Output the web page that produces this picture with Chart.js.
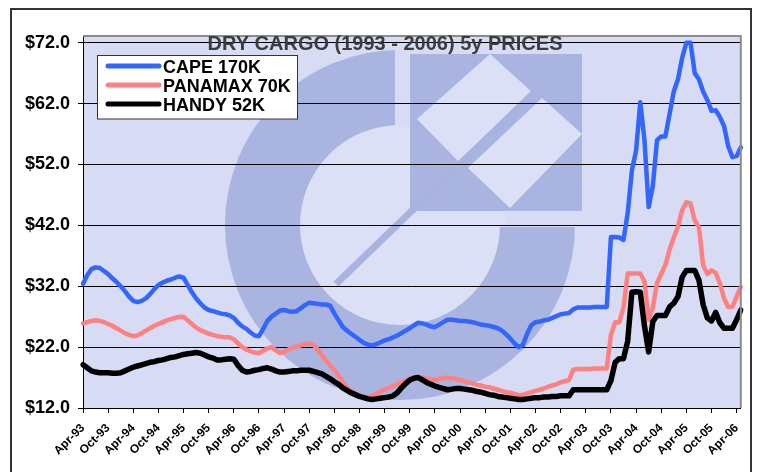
<!DOCTYPE html>
<html>
<head>
<meta charset="utf-8">
<script src="https://cdn.jsdelivr.net/npm/chart.js@4.4.1/dist/chart.umd.min.js"></script>
<style>
  html, body { margin: 0; padding: 0; background: #fff; }
  canvas { display: block; }
</style>
</head>
<body>
<canvas id="dryChart" width="759" height="472"></canvas>
<script>
// monthly categories, Apr-93 .. May-06
const monthNames = ['Jan', 'Feb', 'Mar', 'Apr', 'May', 'Jun', 'Jul', 'Aug', 'Sep', 'Oct', 'Nov', 'Dec'];
const months = [];
for (let i = 0; i < 158; i++) {
    const k = 3 + i;
    const yy = (93 + Math.floor(k / 12)) % 100;
    months.push(monthNames[k % 12] + '-' + String(yy).padStart(2, '0'));
}

const tickLabels = ['Apr-93', 'Oct-93', 'Apr-94', 'Oct-94', 'Apr-95', 'Oct-95', 'Apr-96', 'Oct-96',
    'Apr-97', 'Oct-97', 'Apr-98', 'Oct-98', 'Apr-99', 'Oct-99', 'Apr-00', 'Oct-00', 'Apr-01', 'Oct-01',
    'Apr-02', 'Oct-02', 'Apr-03', 'Oct-03', 'Apr-04', 'Oct-04', 'Apr-05', 'Oct-05', 'Apr-06'];
const yTicks = [12, 22, 32, 42, 52, 62, 72];

const cape = [
    32.4, 33.8, 34.8, 35.1, 35.0, 34.5, 34.0, 33.3, 32.7, 32.0,
    31.2, 30.3, 29.6, 29.4, 29.6, 30.0, 30.7, 31.5, 32.2, 32.6,
    32.9, 33.1, 33.4, 33.6, 33.4, 32.2, 31.0, 30.0, 29.2, 28.5,
    28.1, 27.9, 27.7, 27.5, 27.4, 27.2, 26.8, 26.0, 25.4, 25.0,
    24.4, 23.9, 23.8, 25.0, 26.3, 27.0, 27.5, 28.0, 28.1, 27.9,
    27.8, 27.9, 28.4, 28.9, 29.3, 29.2, 29.1, 29.0, 29.0, 28.8,
    27.5, 26.4, 25.3, 24.7, 24.2, 23.7, 23.2, 22.7, 22.4, 22.3,
    22.5, 22.8, 23.1, 23.3, 23.6, 23.9, 24.3, 24.7, 25.1, 25.6,
    26.0, 25.9, 25.7, 25.4, 25.3, 25.7, 26.1, 26.5, 26.5, 26.4,
    26.3, 26.3, 26.2, 26.1, 25.9, 25.7, 25.6, 25.5, 25.3, 25.1,
    24.7, 24.1, 23.4, 22.6, 22.0, 22.4, 24.2, 25.6, 26.1, 26.2,
    26.4, 26.5, 26.8, 27.1, 27.4, 27.5, 27.6, 28.2, 28.5, 28.5,
    28.5, 28.5, 28.6, 28.6, 28.6, 28.6, 40.1, 40.1, 40.0, 39.6,
    44.0, 51.0, 54.3, 62.2, 56.0, 45.0, 48.5, 56.0, 56.6, 56.6,
    60.3, 64.0, 66.0, 69.5, 72.0, 72.0, 67.0, 66.0, 64.0, 62.6,
    60.8, 60.9, 59.8, 58.3, 55.0, 53.2, 53.4, 54.8
];
const panamax = [
    25.9, 26.1, 26.3, 26.4, 26.3, 26.1, 25.8, 25.5, 25.1, 24.7,
    24.3, 24.0, 23.8, 23.9, 24.3, 24.7, 25.1, 25.5, 25.8, 26.1,
    26.4, 26.6, 26.8, 27.0, 27.0, 26.4, 25.8, 25.2, 24.8, 24.5,
    24.2, 24.0, 23.8, 23.7, 23.6, 23.6, 23.3, 22.6, 22.0, 21.6,
    21.3, 21.1, 21.0, 21.4, 21.8, 22.0, 21.5, 21.0, 21.2, 21.6,
    21.9, 22.1, 22.3, 22.5, 22.6, 22.4, 21.6, 20.7, 19.8, 19.0,
    18.2, 17.3, 16.3, 15.4, 14.8, 14.3, 13.9, 13.7, 13.8, 14.0,
    14.3, 14.7, 15.0, 15.3, 15.6, 15.9, 16.2, 16.5, 16.8, 17.0,
    17.1, 17.0, 16.8, 16.7, 16.6, 16.8, 16.9, 17.0, 16.9, 16.8,
    16.6, 16.4, 16.2, 16.0, 15.8, 15.7, 15.5, 15.4, 15.2, 15.0,
    14.8, 14.6, 14.5, 14.3, 14.1, 14.2, 14.4, 14.6, 14.8, 15.0,
    15.2, 15.5, 15.7, 15.9, 16.2, 16.4, 16.6, 18.3, 18.4, 18.4,
    18.4, 18.4, 18.5, 18.5, 18.5, 18.5, 24.0, 26.1, 26.1, 28.5,
    34.1, 34.1, 34.1, 34.1, 32.8, 26.5, 28.5, 32.5, 34.0, 35.5,
    38.0, 40.0, 41.8, 44.5, 45.8, 45.6, 42.8, 41.7, 35.5, 34.0,
    34.6, 34.2, 32.5, 30.0, 28.6, 28.6, 30.3, 31.9
];
const handy = [
    19.1, 18.6, 18.1, 17.9, 17.8, 17.8, 17.8, 17.7, 17.7, 17.8,
    18.1, 18.4, 18.7, 18.9, 19.1, 19.3, 19.5, 19.6, 19.8, 19.9,
    20.1, 20.3, 20.4, 20.6, 20.8, 20.9, 21.0, 21.1, 21.0, 20.7,
    20.4, 20.2, 19.9, 19.9, 20.0, 20.1, 20.0, 19.0, 18.2, 17.9,
    18.0, 18.2, 18.3, 18.5, 18.6, 18.4, 18.1, 17.9, 17.9, 18.0,
    18.1, 18.1, 18.2, 18.2, 18.2, 18.0, 17.8, 17.6, 17.2, 16.8,
    16.3, 15.9, 15.3, 14.9, 14.5, 14.2, 13.9, 13.7, 13.5, 13.4,
    13.5, 13.6, 13.7, 13.8, 14.0, 14.5, 15.3, 16.0, 16.6, 16.9,
    17.0, 16.6, 16.2, 15.9, 15.6, 15.4, 15.2, 15.0, 15.1, 15.2,
    15.2, 15.1, 15.0, 14.9, 14.7, 14.6, 14.4, 14.2, 14.1, 13.9,
    13.8, 13.7, 13.6, 13.5, 13.4, 13.4, 13.5, 13.6, 13.7, 13.7,
    13.8, 13.8, 13.9, 13.9, 14.0, 14.0, 14.0, 15.0, 15.0, 15.0,
    15.0, 15.0, 15.0, 15.0, 15.0, 15.0, 16.5, 19.5, 20.1, 20.1,
    23.0, 31.0, 31.1, 31.0, 25.5, 21.2, 26.2, 27.2, 27.2, 27.2,
    28.6, 29.2, 30.3, 33.5, 34.6, 34.6, 34.6, 33.0, 29.0, 26.8,
    26.3, 27.7, 26.0, 25.1, 25.1, 25.1, 26.5, 28.1
];

const seriesNames = ['CAPE 170K', 'PANAMAX 70K', 'HANDY 52K'];
const seriesColors = ['#3366ff', '#ff8080', '#000000'];

const FONT = '"Liberation Sans", Arial, sans-serif';
const BG = '#d7dcf4';
const RING = '#aab4e0';
const LIGHT = '#dce0f7';

// plot background + faded logo
const backdrop = {
    id: 'backdrop',
    beforeDraw(chart) {
        const c = chart.ctx, a = chart.chartArea;
        c.save();
        c.beginPath();
        c.rect(a.left, a.top, a.right - a.left, a.bottom - a.top);
        c.clip();
        c.fillStyle = BG;
        c.fillRect(a.left, a.top, a.right - a.left, a.bottom - a.top);

        const cx = 400, cy = 225;
        c.fillStyle = RING;
        c.beginPath();
        c.arc(cx, cy, 175, 0, Math.PI * 2);
        c.fill();
        c.fillStyle = LIGHT;
        c.beginPath();
        c.arc(cx, cy, 100, 0, Math.PI * 2);
        c.fill();
        // upper right quarter cut out
        c.fillStyle = BG;
        c.fillRect(395, a.top, 200, 227 - a.top);
        c.fillStyle = LIGHT;
        c.fillRect(395, 125, 110, 102);
        c.fillStyle = RING;
        c.fillRect(410, 54, 172, 157);
        // two diamonds
        c.fillStyle = LIGHT;
        c.beginPath();
        c.moveTo(490, 54); c.lineTo(533, 93); c.lineTo(458, 161); c.lineTo(417, 119);
        c.closePath();
        c.fill();
        c.beginPath();
        c.moveTo(542, 98); c.lineTo(582, 134); c.lineTo(510, 208); c.lineTo(468, 168);
        c.closePath();
        c.fill();
        // diagonal stroke
        c.strokeStyle = '#a9b3df';
        c.lineWidth = 7;
        c.beginPath();
        c.moveTo(336, 284);
        c.lineTo(538, 89);
        c.stroke();
        c.restore();
    },
    afterDraw(chart) {
        const c = chart.ctx, a = chart.chartArea;
        c.save();
        // plot frame (top / right)
        c.strokeStyle = '#8c8c8c';
        c.lineWidth = 2;
        c.beginPath();
        c.moveTo(a.left, a.top);
        c.lineTo(a.right, a.top);
        c.lineTo(a.right, a.bottom);
        c.stroke();
        // outer frame
        c.strokeStyle = '#333';
        c.lineWidth = 2;
        c.strokeRect(11, 9, 740, 480);

        // title
        c.fillStyle = '#3c3c3c';
        c.font = 'bold 20px ' + FONT;
        c.textAlign = 'center';
        c.textBaseline = 'middle';
        c.fillText('DRY CARGO (1993 - 2006) 5y PRICES', 385, 44);

        // legend
        c.fillStyle = '#fff';
        c.fillRect(97.5, 55.5, 200, 63.5);
        c.strokeStyle = '#333';
        c.lineWidth = 1;
        c.strokeRect(97.5, 55.5, 200, 63.5);
        c.font = 'bold 18px ' + FONT;
        c.textAlign = 'left';
        c.lineCap = 'round';
        seriesNames.forEach((name, i) => {
            const y = 66 + i * 19;
            c.strokeStyle = seriesColors[i];
            c.lineWidth = 5;
            c.beginPath();
            c.moveTo(108, y);
            c.lineTo(159, y);
            c.stroke();
            c.fillStyle = '#000';
            c.fillText(name, 163, y + 2);
        });
        c.restore();
    }
};

const ctx = document.getElementById('dryChart').getContext('2d');
const dryChart = new Chart(ctx, {
    type: 'line',
    data: {
        labels: months,
        datasets: [
            { label: seriesNames[0], data: cape, borderColor: seriesColors[0], borderWidth: 4.5, order: 2 },
            { label: seriesNames[1], data: panamax, borderColor: seriesColors[1], borderWidth: 4.5, order: 1 },
            { label: seriesNames[2], data: handy, borderColor: seriesColors[2], borderWidth: 5.5, order: 0 }
        ]
    },
    options: {
        responsive: false,
        animation: false,
        layout: { padding: { left: 0, right: 18, top: 36, bottom: 0 } },
        elements: {
            point: { radius: 0 },
            line: { tension: 0, fill: false, borderJoinStyle: 'round', borderCapStyle: 'round' }
        },
        plugins: {
            legend: { display: false },
            title: { display: false },
            tooltip: { enabled: false }
        },
        scales: {
            x: {
                offset: false,
                afterFit(s) { s.height = 64; },
                grid: {
                    drawOnChartArea: false,
                    tickLength: 5,
                    color: c => (tickLabels.includes(months[c.index]) ? '#000' : 'rgba(0,0,0,0)')
                },
                border: { color: '#000', width: 1 },
                ticks: {
                    autoSkip: false,
                    maxRotation: 45,
                    minRotation: 45,
                    padding: 8,
                    color: '#000',
                    font: { family: FONT, size: 12, weight: 'bold' },
                    callback(v, i) {
                        const l = months[i];
                        return tickLabels.includes(l) ? l : '';
                    }
                }
            },
            y: {
                min: 12,
                max: 73.1,
                afterFit(s) { s.width = 83; },
                afterBuildTicks(s) { s.ticks = yTicks.map(v => ({ value: v })); },
                grid: { color: '#000', lineWidth: 1, tickLength: 5 },
                border: { color: '#000', width: 1 },
                ticks: {
                    padding: 8,
                    color: '#000',
                    font: { family: FONT, size: 18, weight: 'bold' },
                    callback: v => '$' + Number(v).toFixed(1)
                }
            }
        }
    },
    plugins: [backdrop]
});
</script>
</body>
</html>
